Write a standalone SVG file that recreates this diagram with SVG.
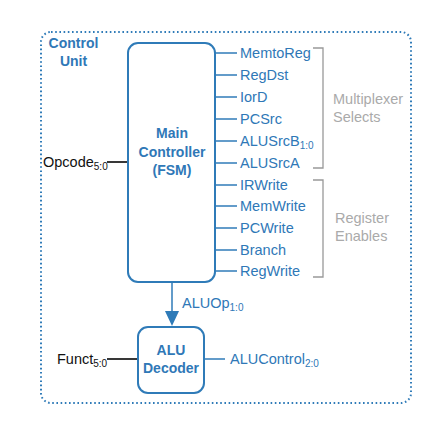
<svg xmlns="http://www.w3.org/2000/svg" width="437" height="438" viewBox="0 0 437 438">
<style>
.sig{font-family:"Liberation Sans",Arial,sans-serif;font-size:14.5px;fill:#2f78b7}
.blk{font-family:"Liberation Sans",Arial,sans-serif;font-size:14.5px;fill:#111}
.ttl{font-family:"Liberation Sans",Arial,sans-serif;font-size:14px;font-weight:bold;fill:#2f78b7;text-anchor:middle}
.gry{font-family:"Liberation Sans",Arial,sans-serif;font-size:14.5px;fill:#aaaaaa}
.sub{font-size:10px}
.box{fill:#fff;stroke:#2f7bb8;stroke-width:2}
.wire{stroke:#2f7bb8;stroke-width:1.5;fill:none}
.bw{stroke:#222;stroke-width:1.8;fill:none}
.brk{stroke:#999;stroke-width:1.3;fill:none}
</style>
<rect width="437" height="438" fill="#fff"/>
<g id="control-unit">
<rect x="41" y="32" width="370" height="371" rx="10" fill="none" stroke="#2f7bb8" stroke-width="2" stroke-dasharray="1.6,2.6"/>
<text class="ttl" x="73.5" y="48">Control</text>
<text class="ttl" x="73.5" y="66">Unit</text>
</g>
<g id="connectors">
<line class="bw" x1="107" y1="162" x2="128" y2="162"/>
<line class="bw" x1="107" y1="359" x2="138" y2="359"/>
<line class="wire" x1="204" y1="359" x2="225" y2="359"/>
<line class="wire" x1="172" y1="282" x2="172" y2="312" stroke-width="2"/>
<polygon points="165,311 179,311 172,326" fill="#2f7bb8"/>
<g class="wire">
<line x1="215" y1="53" x2="237" y2="53"/>
<line x1="215" y1="75" x2="237" y2="75"/>
<line x1="215" y1="97" x2="237" y2="97"/>
<line x1="215" y1="119" x2="237" y2="119"/>
<line x1="215" y1="141" x2="237" y2="141"/>
<line x1="215" y1="163" x2="237" y2="163"/>
<line x1="215" y1="185" x2="237" y2="185"/>
<line x1="215" y1="206" x2="237" y2="206"/>
<line x1="215" y1="228" x2="237" y2="228"/>
<line x1="215" y1="250" x2="237" y2="250"/>
<line x1="215" y1="271" x2="237" y2="271"/>
</g>
</g>
<g id="main-controller">
<rect class="box" x="128" y="43" width="87" height="239" rx="10"/>
<text class="ttl" x="172" y="138">Main</text>
<text class="ttl" x="172" y="157">Controller</text>
<text class="ttl" x="172" y="175">(FSM)</text>
</g>
<g id="alu-decoder">
<rect class="box" x="138" y="327" width="66" height="66" rx="10"/>
<text class="ttl" x="171" y="355">ALU</text>
<text class="ttl" x="171" y="373">Decoder</text>
</g>
<g id="inputs">
<text class="blk" x="43" y="167">Opcode<tspan class="sub" dy="3">5:0</tspan></text>
<text class="blk" x="57" y="364">Funct<tspan class="sub" dy="3">5:0</tspan></text>
</g>
<g id="outputs">
<text class="sig" x="240" y="58">MemtoReg</text>
<text class="sig" x="240" y="80">RegDst</text>
<text class="sig" x="240" y="102">IorD</text>
<text class="sig" x="240" y="124">PCSrc</text>
<text class="sig" x="240" y="146">ALUSrcB<tspan class="sub" dy="3">1:0</tspan></text>
<text class="sig" x="240" y="168">ALUSrcA</text>
<text class="sig" x="240" y="190">IRWrite</text>
<text class="sig" x="240" y="211">MemWrite</text>
<text class="sig" x="240" y="233">PCWrite</text>
<text class="sig" x="240" y="255">Branch</text>
<text class="sig" x="240" y="276">RegWrite</text>
<text class="sig" x="182" y="308">ALUOp<tspan class="sub" dy="3">1:0</tspan></text>
<text class="sig" x="230" y="364">ALUControl<tspan class="sub" dy="3">2:0</tspan></text>
</g>
<g id="groups">
<path class="brk" d="M313,48 H323 V168 H313"/>
<path class="brk" d="M313,180 H323 V277 H313"/>
<text class="gry" x="333" y="104">Multiplexer</text>
<text class="gry" x="333" y="122">Selects</text>
<text class="gry" x="335" y="223">Register</text>
<text class="gry" x="335" y="241">Enables</text>
</g>
</svg>
